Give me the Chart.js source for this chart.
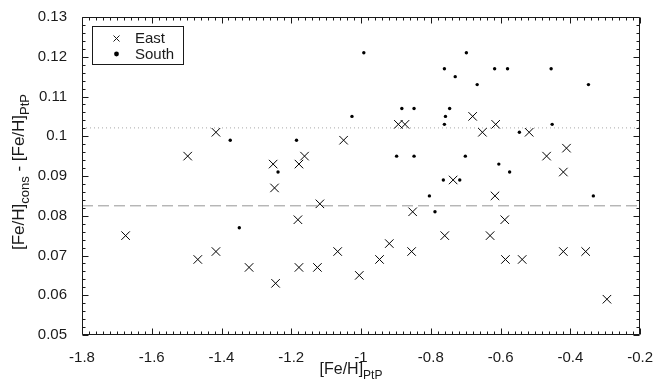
<!DOCTYPE html>
<html>
<head>
<meta charset="utf-8">
<script src="https://cdn.jsdelivr.net/npm/chart.js@4/dist/chart.umd.min.js"></script>
<style>
  html, body { margin: 0; padding: 0; background: #fff; }
  #wrap { width: 659px; height: 387px; position: relative; }
</style>
</head>
<body>
<div id="wrap"><canvas id="feChart"></canvas></div>
<script>
// values
const eastFeH = [-1.675, -1.497, -1.468, -1.416, -1.416, -1.321, -1.252, -1.248, -1.245, -1.181,
                 -1.178, -1.178, -1.162, -1.125, -1.118, -1.067, -1.050, -1.005, -0.947, -0.919,
                 -0.893, -0.874, -0.855, -0.852, -0.760, -0.736, -0.680, -0.652, -0.630, -0.616,
                 -0.614, -0.588, -0.586, -0.538, -0.518, -0.468, -0.420, -0.420, -0.411, -0.356,
                 -0.295];
const eastDiff = [0.075, 0.095, 0.069, 0.101, 0.071, 0.067, 0.093, 0.087, 0.063, 0.079,
                  0.093, 0.067, 0.095, 0.067, 0.083, 0.071, 0.099, 0.065, 0.069, 0.073,
                  0.103, 0.103, 0.071, 0.081, 0.075, 0.089, 0.105, 0.101, 0.075, 0.085,
                  0.103, 0.079, 0.069, 0.069, 0.101, 0.095, 0.091, 0.071, 0.097, 0.071,
                  0.059];
const southFeH = [-1.375, -1.349, -1.238, -1.185, -1.026, -0.992, -0.898, -0.883, -0.848, -0.848,
                  -0.804, -0.788, -0.764, -0.761, -0.761, -0.758, -0.746, -0.730, -0.717, -0.701,
                  -0.698, -0.667, -0.617, -0.605, -0.580, -0.574, -0.546, -0.455, -0.452, -0.348,
                  -0.334];
const southDiff = [0.099, 0.077, 0.091, 0.099, 0.105, 0.121, 0.095, 0.107, 0.107, 0.095,
                   0.085, 0.081, 0.089, 0.117, 0.103, 0.105, 0.107, 0.115, 0.089, 0.095,
                   0.121, 0.113, 0.117, 0.093, 0.117, 0.091, 0.101, 0.117, 0.103, 0.113,
                   0.085];
const seriesNames = ['East', 'South'];
const dottedLevel = 0.1021;
const dashedLevel = 0.0825;
const xRange = [-1.8, -0.2];
const yRange = [0.05, 0.13];
const xTickLabels = ['-1.8', '-1.6', '-1.4', '-1.2', '-1', '-0.8', '-0.6', '-0.4', '-0.2'];
const yTickLabels = ['0.05', '0.06', '0.07', '0.08', '0.09', '0.1', '0.11', '0.12', '0.13'];

const ink = '#1a1a1a';
const fontName = '"Liberation Sans", Arial, Helvetica, sans-serif';

function toPoints(xs, ys) {
    return xs.map((x, i) => ({ x: x, y: ys[i] }));
}

// text with TeX-like subscripts, parts = [text, isSub]
function drawSubText(ctx, parts, x, y, mainSize, subSize, drop) {
    let total = 0;
    parts.forEach(p => {
        ctx.font = (p[1] ? subSize : mainSize) + 'px ' + fontName;
        total += ctx.measureText(p[0]).width;
    });
    let cx = x - total / 2;
    ctx.textAlign = 'left';
    ctx.textBaseline = 'alphabetic';
    parts.forEach(p => {
        ctx.font = (p[1] ? subSize : mainSize) + 'px ' + fontName;
        ctx.fillText(p[0], cx, p[1] ? y + drop : y);
        cx += ctx.measureText(p[0]).width;
    });
}

const framePlugin = {
    id: 'frame',
    afterDraw(chart) {
        const ctx = chart.ctx;
        const a = chart.chartArea;
        const xs = chart.scales.x, ys = chart.scales.y;
        const L = Math.round(a.left) + 0.5, R = Math.round(a.right) - 0.5;
        const T = Math.round(a.top) + 0.5, B = Math.round(a.bottom) - 0.5;
        ctx.save();
        ctx.strokeStyle = ink;
        ctx.lineWidth = 1;
        ctx.beginPath();
        ctx.rect(L, T, R - L, B - T);
        // x ticks, minor every 0.02
        for (let k = 0; k <= 80; k++) {
            const v = xRange[0] + k * 0.02;
            const px = Math.round(xs.getPixelForValue(v)) + 0.5;
            const len = k % 10 === 0 ? 6 : 3;
            ctx.moveTo(px, B); ctx.lineTo(px, B - len);
            ctx.moveTo(px, T); ctx.lineTo(px, T + len);
        }
        // y ticks, minor every 0.002
        for (let k = 0; k <= 40; k++) {
            const v = yRange[0] + k * 0.002;
            const py = Math.round(ys.getPixelForValue(v)) + 0.5;
            const len = k % 5 === 0 ? 6 : 3;
            ctx.moveTo(L, py); ctx.lineTo(L + len, py);
            ctx.moveTo(R, py); ctx.lineTo(R - len, py);
        }
        ctx.stroke();

        // axis titles
        ctx.fillStyle = ink;
        drawSubText(ctx, [['[Fe/H]', false], ['PtP', true]], 351, 374, 16, 12, 5);
        ctx.save();
        ctx.translate(24, 172);
        ctx.rotate(-Math.PI / 2);
        drawSubText(ctx, [['[Fe/H]', false], ['cons', true], [' - [Fe/H]', false], ['PtP', true]], 0, 0, 17, 13, 5);
        ctx.restore();

        // legend
        const lx = 92.5, ly = 26.5, lw = 91, lh = 38;
        ctx.fillStyle = '#fff';
        ctx.fillRect(lx, ly, lw, lh);
        ctx.strokeStyle = ink;
        ctx.strokeRect(lx, ly, lw, lh);
        ctx.beginPath();
        ctx.moveTo(113.5, 35.5); ctx.lineTo(119.5, 41.5);
        ctx.moveTo(119.5, 35.5); ctx.lineTo(113.5, 41.5);
        ctx.stroke();
        ctx.fillStyle = '#000';
        ctx.beginPath();
        ctx.arc(116.5, 54, 2.4, 0, Math.PI * 2);
        ctx.fill();
        ctx.fillStyle = ink;
        ctx.font = '15px ' + fontName;
        ctx.textAlign = 'left';
        ctx.textBaseline = 'middle';
        ctx.fillText(seriesNames[0], 135, 38.5);
        ctx.fillText(seriesNames[1], 135, 54.5);
        ctx.restore();
    }
};

new Chart(document.getElementById('feChart'), {
    type: 'scatter',
    data: {
        datasets: [
            {
                label: seriesNames[0],
                data: toPoints(eastFeH, eastDiff),
                pointStyle: 'crossRot',
                pointRadius: 6,
                borderColor: '#000',
                borderWidth: 1,
                order: 1
            },
            {
                label: seriesNames[1],
                data: toPoints(southFeH, southDiff),
                pointStyle: 'circle',
                pointRadius: 1.7,
                backgroundColor: '#000',
                borderColor: '#000',
                borderWidth: 0,
                order: 1
            },
            {
                type: 'line',
                label: 'dotted',
                data: toPoints(xRange, [dottedLevel, dottedLevel]),
                borderColor: '#a8a8a8',
                borderWidth: 1,
                borderDash: [1, 3],
                pointRadius: 0,
                order: 2
            },
            {
                type: 'line',
                label: 'dashed',
                data: toPoints(xRange, [dashedLevel, dashedLevel]),
                borderColor: '#959595',
                borderWidth: 1,
                borderDash: [11, 5],
                pointRadius: 0,
                order: 2
            }
        ]
    },
    options: {
        responsive: true,
        maintainAspectRatio: false,
        animation: false,
        layout: { padding: { top: 17, right: 16, bottom: 0, left: 0 } },
        plugins: {
            legend: { display: false },
            tooltip: { enabled: false }
        },
        scales: {
            x: {
                type: 'linear',
                min: xRange[0],
                max: xRange[1],
                grid: { display: false },
                border: { display: false },
                ticks: {
                    stepSize: 0.2,
                    padding: 6,
                    color: ink,
                    font: { family: fontName, size: 15 },
                    maxRotation: 0,
                    callback: (v, i) => xTickLabels[i]
                },
                afterFit: s => { s.height = 52; }
            },
            y: {
                min: yRange[0],
                max: yRange[1],
                grid: { display: false },
                border: { display: false },
                ticks: {
                    stepSize: 0.01,
                    padding: 7,
                    color: ink,
                    font: { family: fontName, size: 15 },
                    callback: (v, i) => yTickLabels[i]
                },
                afterFit: s => { s.width = 82; }
            }
        }
    },
    plugins: [framePlugin]
});
</script>
</body>
</html>
